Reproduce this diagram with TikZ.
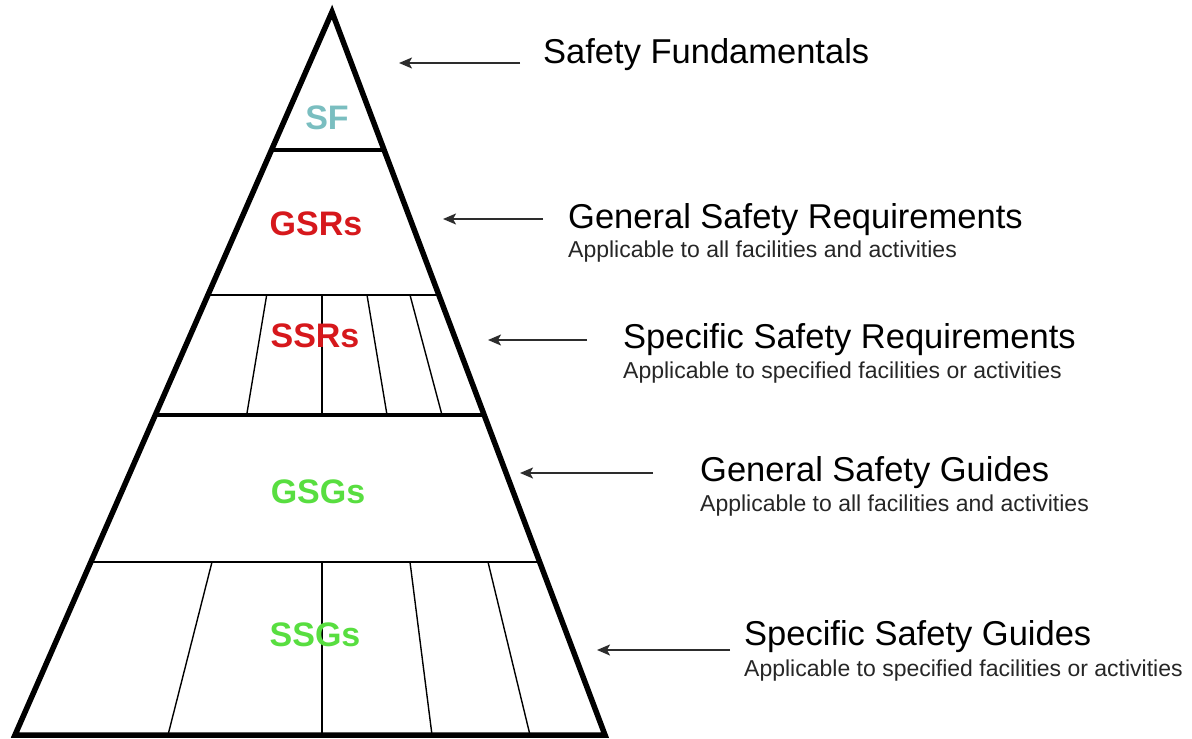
\documentclass[tikz,border=0pt]{standalone}
\usepackage{fontspec}
\setmainfont{Liberation Sans}
\usetikzlibrary{arrows.meta}
\definecolor{sfcol}{RGB}{122,190,192}
\definecolor{srcol}{RGB}{214,24,28}
\definecolor{sgcol}{RGB}{88,222,64}
\definecolor{arrcol}{RGB}{45,45,45}
\tikzset{
  outline/.style={line width=5.5pt, line join=miter},
  midline/.style={line width=4.5pt},
  thinline/.style={line width=1.4pt},
  levellabel/.style={font=\fontsize{34}{38}\selectfont\bfseries, inner sep=0pt, anchor=center},
  titletext/.style={font=\fontsize{34.5}{40}\selectfont, inner sep=0pt, anchor=base west},
  subtext/.style={font=\fontsize{23}{26}\selectfont, inner sep=0pt, anchor=base west, text=black!85},
  pointer/.style={line width=1.8pt, draw=arrcol, -{Stealth[length=13pt,width=11pt,inset=3pt]}},
}
\begin{document}
\begin{tikzpicture}[x=1pt,y=-1pt]
\useasboundingbox (0,0) rectangle (1192,739);
% pyramid geometry: apex (332,12), base (15,735)-(605,735)
\coordinate (apex) at (332,12);
\coordinate (bl) at (15,735);
\coordinate (br) at (605,735);
% horizontal divisions
\draw[midline] (271.5,150) -- (384.1,150);
\draw[thinline] (207.9,295) -- (438.9,295);
\draw[midline] (155.3,415) -- (484.2,415);
\draw[thinline] (90.8,562) -- (539.7,562);
% SSR subdivisions
\draw[thinline] (266.7,295) -- (246.7,415);
\draw[thinline] (322,295) -- (322,415);
\draw[thinline] (367,295) -- (387,415);
\draw[thinline] (410,295) -- (442,415);
% SSG subdivisions
\draw[thinline] (212,562) -- (168,735);
\draw[thinline] (322,562) -- (322,735);
\draw[thinline] (410,562) -- (432,735);
\draw[thinline] (488,562) -- (530,735);
% outline
\draw[outline] (bl) -- (apex) -- (br) -- cycle;
% level labels
\node[levellabel, text=sfcol] (sf) at (327,118) {SF};
\node[levellabel, text=srcol] (gsr) at (316,224) {GSRs};
\node[levellabel, text=srcol] (ssr) at (315,336) {SSRs};
\node[levellabel, text=sgcol] (gsg) at (318,492) {GSGs};
\node[levellabel, text=sgcol] (ssg) at (315,635) {SSGs};
% titles
\node[titletext] (t1) at (543,63) {Safety Fundamentals};
\node[titletext] (t2) at (568,228) {General Safety Requirements};
\node[subtext] (s2) at (568,257) {Applicable to all facilities and activities};
\node[titletext] (t3) at (623,348) {Specific Safety Requirements};
\node[subtext] (s3) at (623,378) {Applicable to specified facilities or activities};
\node[titletext] (t4) at (700,481) {General Safety Guides};
\node[subtext] (s4) at (700,511) {Applicable to all facilities and activities};
\node[titletext] (t5) at (744,645) {Specific Safety Guides};
\node[subtext] (s5) at (744,676) {Applicable to specified facilities or activities};
% arrow ends
\coordinate (a1s) at (520,63);  \coordinate (a1e) at (399,63);
\coordinate (a2s) at (543,219); \coordinate (a2e) at (443,219);
\coordinate (a3s) at (587,340); \coordinate (a3e) at (488,340);
\coordinate (a4s) at (653,473); \coordinate (a4e) at (520,473);
\coordinate (a5s) at (730,650); \coordinate (a5e) at (597,650);
\draw[pointer] (a1s) -- (a1e);
\draw[pointer] (a2s) -- (a2e);
\draw[pointer] (a3s) -- (a3e);
\draw[pointer] (a4s) -- (a4e);
\draw[pointer] (a5s) -- (a5e);
\end{tikzpicture}
\end{document}
